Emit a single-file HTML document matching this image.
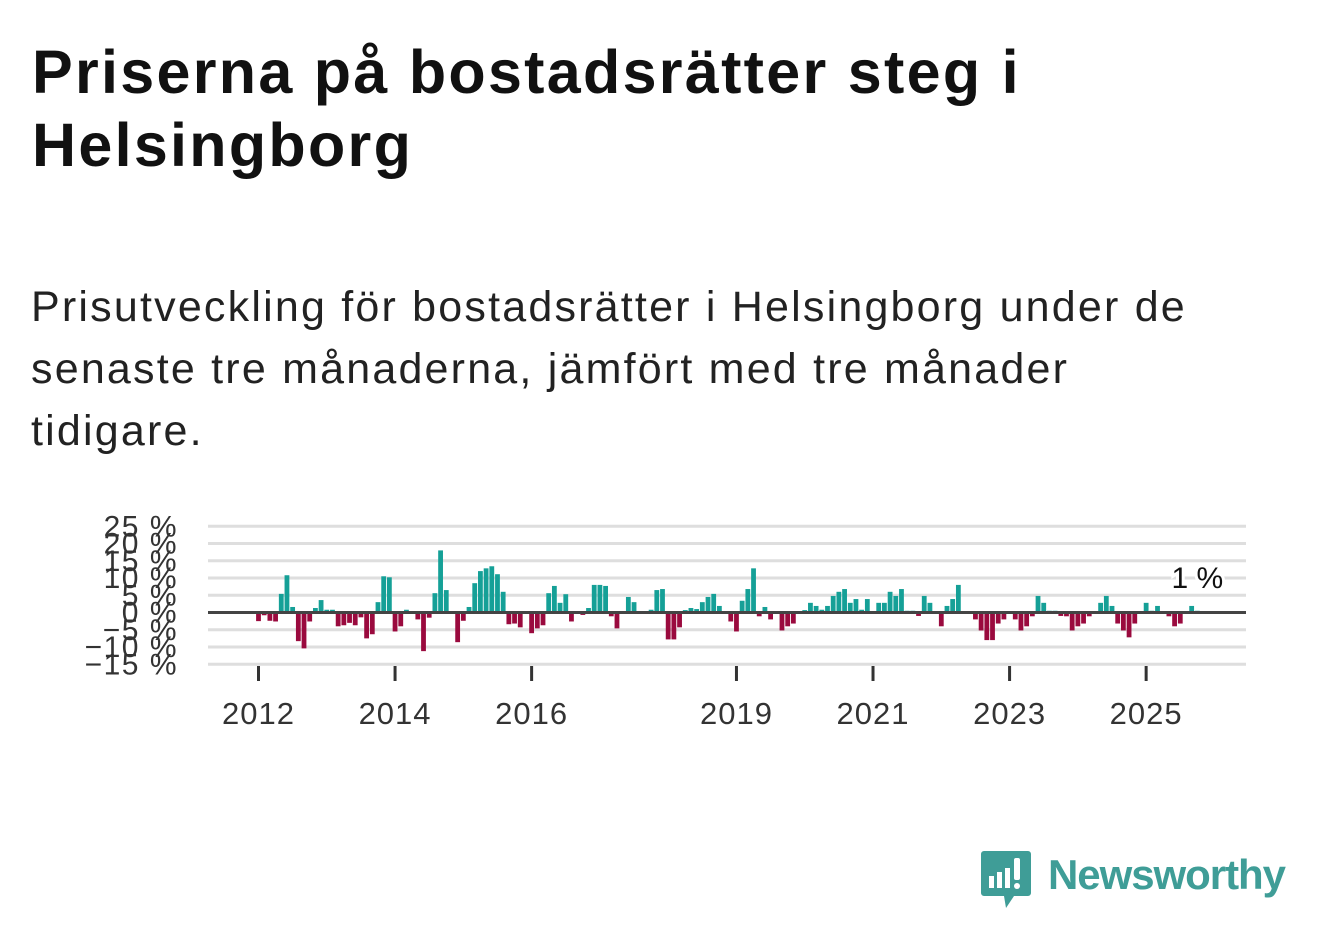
<!DOCTYPE html>
<html><head><meta charset="utf-8">
<style>
body{margin:0;width:1322px;height:939px;background:#fff;overflow:hidden;font-family:"Liberation Sans","DejaVu Sans",sans-serif;color:#111;position:relative}
h1{position:absolute;left:32px;top:36px;margin:0;font-size:61px;line-height:73px;font-weight:bold;width:1250px;letter-spacing:2.3px;white-space:nowrap}
p{position:absolute;left:31px;top:276px;margin:0;font-size:43px;line-height:62px;width:1290px;color:#222;letter-spacing:2.2px;white-space:nowrap}
svg{position:absolute;left:0;top:0}
</style></head><body>
<h1>Priserna på bostadsrätter steg i<br>Helsingborg</h1>
<p>Prisutveckling för bostadsrätter i Helsingborg under de<br>senaste tre månaderna, jämfört med tre månader<br>tidigare.</p>
<svg id="chart" width="1322" height="939"></svg>
<svg width="1322" height="939" style="pointer-events:none">
<g>
<path d="M984 851 h44 a3 3 0 0 1 3 3 v39 a3 3 0 0 1 -3 3 h-14 l-8 12 l-2 -12 h-20 a3 3 0 0 1 -3 -3 v-39 a3 3 0 0 1 3 -3z" fill="#3f9d97"/>
<rect x="989" y="876" width="5" height="12" fill="#fff"/><rect x="997" y="872" width="5" height="16" fill="#fff"/><rect x="1005" y="868" width="5" height="20" fill="#fff"/><rect x="1014" y="858" width="6" height="22" rx="2" fill="#fff"/><circle cx="1017" cy="886" r="3" fill="#fff"/>
<text x="1048" y="889" font-size="42" font-weight="bold" fill="#3f9d97" font-family="Liberation Sans, sans-serif" textLength="238">Newsworthy</text>
</g></svg>
<script>
const startYear = 2012;
const values = [
-2.5,-0.8,-2.4,-2.6,5.4,10.8,1.6,-8.3,-10.4,-2.6,1.3,3.6,
0.8,0.8,-4,-3.7,-3,-3.7,-1.4,-7.5,-6.3,3,10.5,10.2,
-5.5,-4,0.8,0,-2,-11.2,-1.5,5.6,18,6.5,0,-8.6,
-2.4,1.6,8.5,12,12.8,13.4,11.1,6,-3.4,-3.2,-4.3,0,
-6,-4.6,-3.7,5.6,7.7,2.8,5.3,-2.6,0,-0.7,1.3,8,
8,7.7,-1.1,-4.6,0,4.5,3,0,0,0.8,6.5,6.8,
-7.8,-7.8,-4.3,0.7,1.3,1,3,4.5,5.4,1.9,0,-2.6,
-5.5,3.4,6.8,12.8,-1.1,1.6,-2,0,-5.2,-4,-3.2,0,
0.7,2.8,1.9,0.8,1.9,4.8,6,6.8,2.8,3.9,0.8,3.9,
0.3,2.8,2.8,6,4.8,6.8,0.5,0.5,-1,4.8,2.8,0,
-4,1.9,3.9,8,0,0.3,-2,-5.2,-8,-8,-3.2,-2,
0.3,-2,-5.2,-4,-1.1,4.8,2.8,0.5,0.5,-1,-1.1,-5.2,
-4,-3.2,-1.1,0.3,2.8,4.8,1.9,-3.2,-5.2,-7.2,-3.2,0,
2.8,0.5,1.9,0.4,-1.1,-4,-3.2,0.4,1.9,0.5];
const yTicks = [25,20,15,10,5,0,-5,-10,-15];
const xTickYears = [2012,2014,2016,2019,2021,2023,2025];
const lastLabel = "1 %";

const NS="http://www.w3.org/2000/svg", svg=document.getElementById('chart');
const x = m => 258.5 + m*5.69;
const y = v => 612.5 - v*3.45;
function mk(t,a){const e=document.createElementNS(NS,t);for(const k in a)e.setAttribute(k,a[k]);svg.appendChild(e);return e;}
yTicks.forEach(t=>{
  const g=mk('line',{x1:208,x2:1246,y1:y(t),y2:y(t),stroke:'#dedede','stroke-width':3});
  
  
  const l=mk('text',{x:178,y:y(t)+10,'text-anchor':'end','font-size':30,fill:'#333','letter-spacing':'1.5'});
  l.textContent=(t<0?'\u2212'+(-t):t)+' %';
  
  
});
values.forEach((v,i)=>{
  const r=mk('rect',{x:x(i)-2.4,width:4.8,y:Math.min(y(v),y(0)),height:Math.abs(y(v)-y(0)),fill:v>=0?'#15a097':'#9a0a3e'});
  
  
});
const z=mk('line',{x1:208,x2:1246,y1:y(0),y2:y(0),stroke:'#444','stroke-width':3});


xTickYears.forEach(yr=>{
  const m=(yr-startYear)*12;
  const t=mk('line',{x1:x(m),x2:x(m),y1:666,y2:681,stroke:'#333','stroke-width':3});
  
  
  const l=mk('text',{x:x(m),y:724,'text-anchor':'middle','font-size':31,fill:'#333','letter-spacing':'1'});
  l.textContent=yr;
  
  
});
const li=values.length-1;
const lab=mk('text',{x:x(li),y:y(10)+10,'text-anchor':'middle','font-size':30,fill:'#111',stroke:'#fff','stroke-width':6,'paint-order':'stroke'});
lab.textContent=lastLabel;


</script>
</body></html>
